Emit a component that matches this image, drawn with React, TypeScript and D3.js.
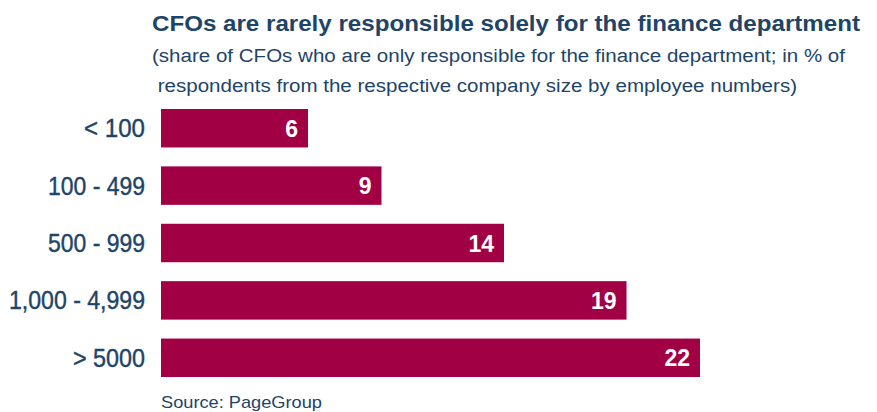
import React from "react";
import * as d3 from "d3";

const categories = ["< 100", "100 - 499", "500 - 999", "1,000 - 4,999", "> 5000"];
const values = [6, 9, 14, 19, 22];
const labelWidths = [61, 97, 97, 136, 72];
const title = "CFOs are rarely responsible solely for the finance department";
const subtitle1 = "(share of CFOs who are only responsible for the finance department; in % of";
const subtitle2 = " respondents from the respective company size by employee numbers)";
const source = "Source: PageGroup";

const W = 877;
const H = 412;
const BAR = "#a20045";
const TEXT = "#1e4467";

export default function App() {
  const x = d3.scaleLinear().domain([0, 22]).range([161, 700]);
  const y = d3.scaleBand().domain(categories).range([109, 377]).paddingInner(0.33).paddingOuter(0);
  return (
    <svg width={W} height={H} style={{ position: "absolute", left: 0, top: 0, background: "#fff" }}>
      <text x={152} y={31} fontFamily="Liberation Sans, Arial, sans-serif" fontWeight="bold" fontSize={22.5}
        fill={TEXT} textLength={708} lengthAdjust="spacingAndGlyphs">{title}</text>
      <text x={152} y={62} fontFamily="Liberation Sans, Arial, sans-serif" fontSize={18}
        fill={TEXT} textLength={693} lengthAdjust="spacingAndGlyphs">{subtitle1}</text>
      <text x={152} y={92} fontFamily="Liberation Sans, Arial, sans-serif" fontSize={18}
        fill={TEXT} textLength={645} lengthAdjust="spacingAndGlyphs" xmlSpace="preserve">{subtitle2}</text>
      {categories.map((c, i) => {
        const y0 = y(c)!;
        const bw = y.bandwidth();
        return (
          <g key={c}>
            <rect x={x(0)} y={y0} width={x(values[i]) - x(0)} height={bw} fill={BAR} />
            <text x={145 - labelWidths[i]} y={y0 + bw / 2 + 9}
              fontFamily="Liberation Sans, Arial, sans-serif" fontSize={25}
              fill={TEXT} stroke={TEXT} strokeWidth={0.4}
              textLength={labelWidths[i]} lengthAdjust="spacingAndGlyphs">{c}</text>
            <text x={x(values[i]) - 10} y={y0 + bw / 2 + 8.5} textAnchor="end"
              fontFamily="Liberation Sans, Arial, sans-serif" fontWeight="bold" fontSize={23}
              fill="#fff">{values[i]}</text>
          </g>
        );
      })}
      <text x={161} y={408} fontFamily="Liberation Sans, Arial, sans-serif" fontSize={17}
        fill={TEXT} textLength={161} lengthAdjust="spacingAndGlyphs">{source}</text>
    </svg>
  );
}
